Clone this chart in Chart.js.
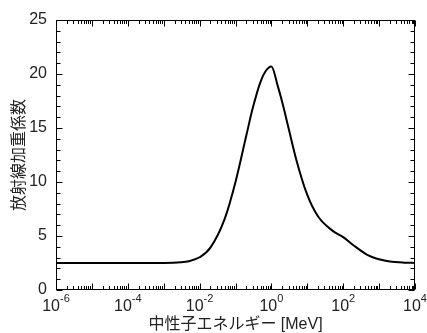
<!DOCTYPE html>
<html>
<head>
<meta charset="utf-8">
<script src="https://cdn.jsdelivr.net/npm/chart.js@4.4.1/dist/chart.umd.min.js"></script>
<style>
  html, body { margin: 0; padding: 0; background: #fff; }
  canvas { display: block; }
</style>
</head>
<body>
<canvas id="wrChart" width="427" height="333"></canvas>
<script>
// neutron energy [MeV] and radiation weighting factor
const energies = [1e-6, 1e-5, 1e-4, 1e-3, 3e-3, 5e-3, 1e-2, 2e-2, 5e-2, 0.1, 0.2, 0.3, 0.5, 0.7, 1,
  1.5, 2, 3, 5, 10, 20, 50, 100, 200, 500, 1000, 2000, 5000, 1e4];
const weights = [2.5, 2.5, 2.5, 2.51, 2.57, 2.67, 3.03, 3.92, 6.58, 10.0, 14.3, 16.8, 19.3, 20.3, 20.7,
  18.9, 17.4, 15.0, 12.0, 8.8, 6.8, 5.5, 4.9, 4.1, 3.2, 2.84, 2.63, 2.53, 2.51];

const xLabelExps = [-6, -4, -2, 0, 2, 4];
const xDecadeExps = [-6, -5, -4, -3, -2, -1, 0, 1, 2, 3, 4];
const yMajorTicks = [0, 5, 10, 15, 20, 25];

const xTitle = '中性子エネルギー [MeV]';
const yTitle = '放射線加重係数';

const latinFont = "'Liberation Sans', Arial, 'Noto Sans CJK JP', sans-serif";
const textColor = '#222';

// box frame, inward ticks on all four sides, and 10^n labels
const frameTicks = {
  id: 'frameTicks',
  afterDraw(chart) {
    const { ctx, chartArea: a, scales: { x, y } } = chart;
    const L = Math.round(a.left) + 0.5, R = Math.round(a.right) - 0.5;
    const T = Math.round(a.top) + 0.5, B = Math.round(a.bottom) - 0.5;
    ctx.save();
    ctx.strokeStyle = '#000';
    ctx.lineWidth = 1;
    ctx.strokeRect(L, T, R - L, B - T);

    ctx.beginPath();
    // x ticks (decades + minor 2..9)
    xDecadeExps.forEach(e => {
      for (let m = 1; m <= 9; m++) {
        if (e === 4 && m > 1) break;
        const px = Math.round(x.getPixelForValue(m * Math.pow(10, e))) + 0.5;
        const len = m === 1 ? 6 : 3.5;
        ctx.moveTo(px, B); ctx.lineTo(px, B - len);
        ctx.moveTo(px, T); ctx.lineTo(px, T + len);
      }
    });
    // y ticks every 1, longer at 5s
    for (let v = 0; v <= 25; v++) {
      const py = Math.round(y.getPixelForValue(v)) + 0.5;
      const len = yMajorTicks.includes(v) ? 6 : 4;
      ctx.moveTo(L, py); ctx.lineTo(L + len, py);
      ctx.moveTo(R, py); ctx.lineTo(R - len, py);
    }
    ctx.stroke();

    // x tick labels with superscript exponent
    ctx.fillStyle = textColor;
    ctx.textBaseline = 'alphabetic';
    ctx.textAlign = 'left';
    xLabelExps.forEach(e => {
      const px = x.getPixelForValue(Math.pow(10, e));
      const base = '10', exp = String(e);
      ctx.font = '16px ' + latinFont;
      const wb = ctx.measureText(base).width;
      ctx.font = '11px ' + latinFont;
      const we = ctx.measureText(exp).width;
      const x0 = px - (wb + we) / 2;
      ctx.font = '16px ' + latinFont;
      ctx.fillText(base, x0, 311);
      ctx.font = '11px ' + latinFont;
      ctx.fillText(exp, x0 + wb, 302);
    });
    ctx.restore();
  }
};

new Chart(document.getElementById('wrChart'), {
  type: 'line',
  data: {
    datasets: [{
      data: energies.map((e, i) => ({ x: e, y: weights[i] })),
      borderColor: '#000',
      borderWidth: 2,
      pointRadius: 0,
      fill: false,
      cubicInterpolationMode: 'monotone'
    }]
  },
  options: {
    responsive: false,
    animation: false,
    layout: { padding: { top: 20, right: 12, bottom: 0, left: 0 } },
    plugins: { legend: { display: false }, tooltip: { enabled: false } },
    scales: {
      x: {
        type: 'logarithmic',
        min: 1e-6,
        max: 1e4,
        grid: { display: false, drawTicks: false },
        border: { display: false },
        ticks: { display: false },
        title: {
          display: true,
          text: xTitle,
          color: textColor,
          font: { family: latinFont, size: 16, lineHeight: 1 },
          padding: { top: 0, bottom: 0 }
        },
        afterFit(scale) { scale.height = 43; }
      },
      y: {
        min: 0,
        max: 25,
        grid: { display: false, drawTicks: false },
        border: { display: false },
        ticks: {
          stepSize: 5,
          padding: 9,
          color: textColor,
          font: { family: latinFont, size: 16 }
        },
        title: {
          display: true,
          text: yTitle,
          color: textColor,
          font: { family: latinFont, size: 16 },
          padding: { top: 10, bottom: 0 }
        },
        afterFit(scale) { scale.width = 56; }
      }
    }
  },
  plugins: [frameTicks]
});
</script>
</body>
</html>
